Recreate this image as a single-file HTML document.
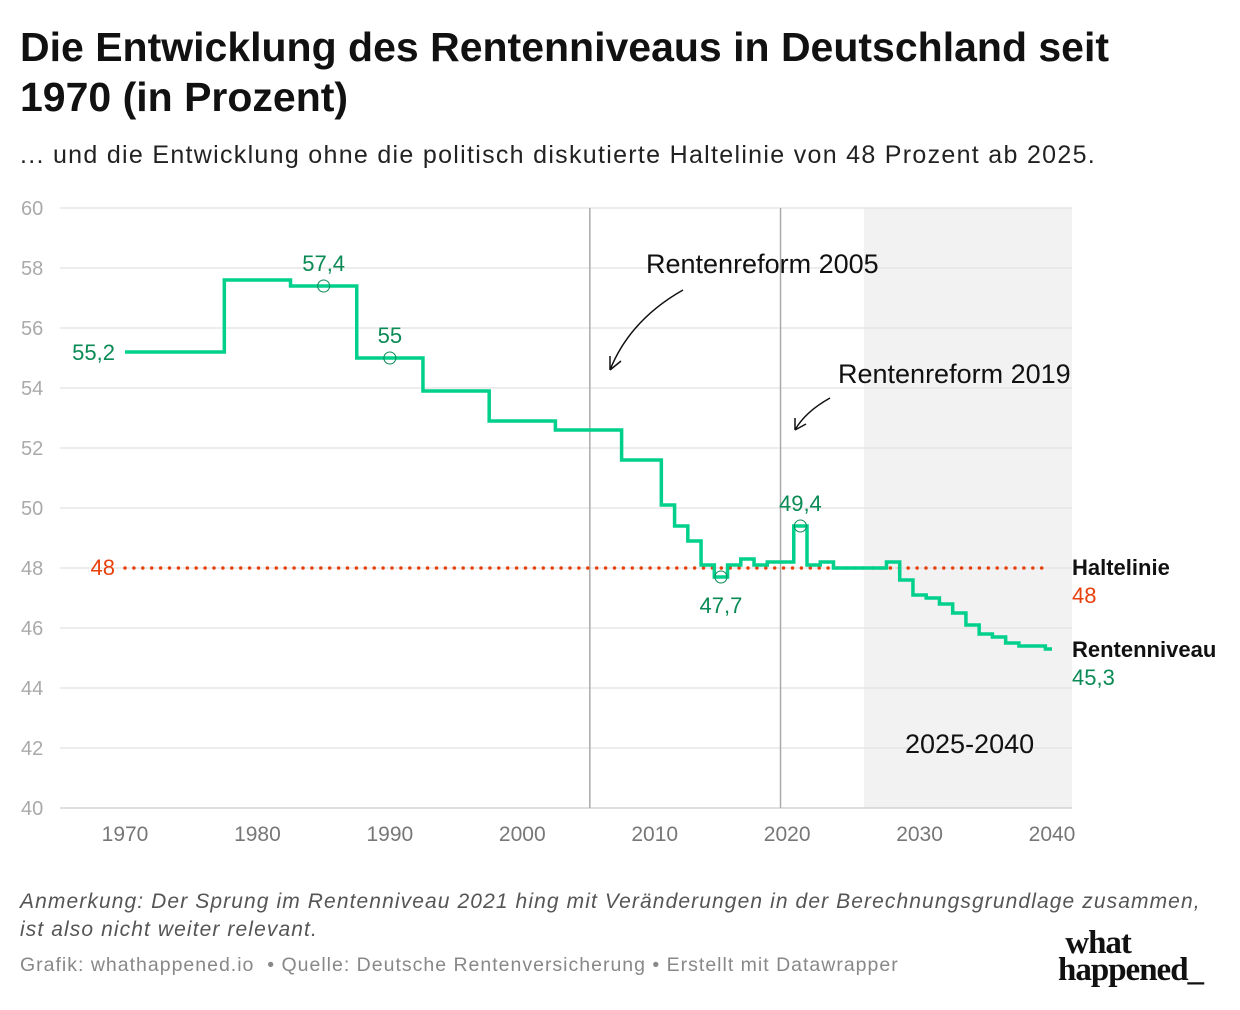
<!DOCTYPE html>
<html><head><meta charset="utf-8"><style>
body{margin:0;width:1240px;height:1010px;background:#fff;font-family:"Liberation Sans",sans-serif;position:relative;overflow:hidden}
.t{position:absolute;left:20px;top:22px;font-size:41px;font-weight:bold;line-height:50px;color:#111;letter-spacing:0px}
.s{position:absolute;left:20px;top:141px;font-size:25px;color:#222;letter-spacing:1.3px}
.n{position:absolute;left:20px;top:888px;font-size:21px;font-style:italic;color:#555;line-height:28px;letter-spacing:1.1px}
.f{position:absolute;left:20px;top:954px;font-size:19.5px;color:#888;letter-spacing:1.0px}
.logo{position:absolute;left:1058px;top:930px;font-family:"Liberation Serif",serif;font-weight:bold;font-size:33px;line-height:27px;color:#111;letter-spacing:-1px}
</style></head><body>
<div class="t">Die Entwicklung des Rentenniveaus in Deutschland seit<br>1970 (in Prozent)</div>
<div class="s">... und die Entwicklung ohne die politisch diskutierte Haltelinie von 48 Prozent ab 2025.</div>
<svg id="c" width="1240" height="1010" style="position:absolute;left:0;top:0"></svg>
<div class="n">Anmerkung: Der Sprung im Rentenniveau 2021 hing mit Veränderungen in der Berechnungsgrundlage zusammen,<br>ist also nicht weiter relevant.</div>
<div class="f">Grafik: whathappened.io &nbsp;• Quelle: Deutsche Rentenversicherung • Erstellt mit Datawrapper</div>
<div class="logo">&nbsp;what<br>happened_</div>
<script>
const changeYears=[1970,1977.5,1982.5,1987.5,1992.5,1997.5,2002.5,2007.5,2010.5,2011.5,2012.5,2013.5,2014.5,2015.5,2016.5,2017.5,2018.5,2020.5,2021.5,2022.5,2023.5,2027.5,2028.5,2029.5,2030.5,2031.5,2032.5,2033.5,2034.5,2035.5,2036.5,2037.5,2039.5];
const levels=[55.2,57.6,57.4,55,53.9,52.9,52.6,51.6,50.1,49.4,48.9,48.1,47.7,48.1,48.3,48.1,48.2,49.4,48.1,48.2,48,48.2,47.6,47.1,47.0,46.8,46.5,46.1,45.8,45.7,45.5,45.4,45.3];
const endYear=2040;
const yTicks=[40,42,44,46,48,50,52,54,56,58,60];
const xTicks=[1970,1980,1990,2000,2010,2020,2030,2040];
const markerYears=[1985,1990,2015,2021];
const markerVals=[57.4,55,47.7,49.4];
const markerLabels=["57,4","55","47,7","49,4"];
const haltelinie=48;
const X=y=>125+(y-1970)*(927/70);
const Y=v=>808-(v-40)*30;
const svg=document.getElementById('c');
const NS='http://www.w3.org/2000/svg';
function mk(tag,attrs,txt){const e=document.createElementNS(NS,tag);for(const k in attrs)e.setAttribute(k,attrs[k]);if(txt!=null)e.textContent=txt;svg.appendChild(e);return e;}
let e=mk('rect',{x:864,y:208,width:208,height:600,fill:'#f2f2f2'});


yTicks.forEach(v=>{
 let g=mk('line',{x1:60,x2:1072,y1:Y(v),y2:Y(v),stroke:v==40?'#ccc':'#e2e2e2','stroke-width':1.3});
 
 
 let t=mk('text',{x:21,y:Y(v)+7,'font-size':20,fill:'#aaa'},v);
 
 
});
xTicks.forEach(v=>{
 let t=mk('text',{x:X(v),y:841,'font-size':21,fill:'#777','text-anchor':'middle'},v);
 
 
});
[[2005.1,'reform-2005-line'],[2019.5,'reform-2019-line']].forEach(([yr,n])=>{
 let l=mk('line',{x1:X(yr),x2:X(yr),y1:208,y2:808,stroke:'#aaa','stroke-width':1.5});
 
 
});
e=mk('line',{x1:X(1970),x2:1046,y1:Y(haltelinie),y2:Y(haltelinie),stroke:'#e8400c','stroke-width':3.5,'stroke-dasharray':'0 8.9','stroke-linecap':'round'});


let d='';
for(let i=0;i<levels.length;i++){
 const x0=X(changeYears[i]),x1=X(i+1<changeYears.length?changeYears[i+1]:endYear);
 d+=(i==0?'M':'L')+x0+','+Y(levels[i])+'L'+x1+','+Y(levels[i]);
}
e=mk('path',{d:d,fill:'none',stroke:'#00d08c','stroke-width':3.5,'stroke-linejoin':'miter'});


markerYears.forEach((yr,i)=>{
 let c=mk('circle',{cx:X(yr),cy:Y(markerVals[i]),r:6,fill:'none',stroke:'#0a8a55','stroke-width':1});
 
 
 const below=markerVals[i]<48;
 let t=mk('text',{x:X(yr),y:below?Y(markerVals[i])+36:Y(markerVals[i])-15,'font-size':22,fill:'#0a8a55','text-anchor':'middle'},markerLabels[i]);
 
 
});
e=mk('text',{x:115,y:Y(55.2)+8,'font-size':22,fill:'#0a8a55','text-anchor':'end'},'55,2');


e=mk('text',{x:115,y:Y(48)+7,'font-size':22,fill:'#e8400c','text-anchor':'end'},'48');


e=mk('text',{x:1072,y:575,'font-size':22,'font-weight':'bold',fill:'#111'},'Haltelinie');


e=mk('text',{x:1072,y:603,'font-size':22,fill:'#e8400c'},'48');


e=mk('text',{x:1072,y:657,'font-size':22,'font-weight':'bold',fill:'#111'},'Rentenniveau');


e=mk('text',{x:1072,y:685,'font-size':22,fill:'#0a8a55'},'45,3');


e=mk('text',{x:646,y:273,'font-size':27,fill:'#111'},'Rentenreform 2005');


e=mk('text',{x:838,y:383,'font-size':27,fill:'#111'},'Rentenreform 2019');


e=mk('text',{x:905,y:753,'font-size':27,fill:'#111'},'2025-2040');


e=mk('path',{d:'M683,290 Q630,320 610,370 M610,370 L610,356 M610,370 L621,361',fill:'none',stroke:'#111','stroke-width':1.5});


e=mk('path',{d:'M830,398 Q805,412 795,430 M795,430 L795,418 M795,430 L806,424',fill:'none',stroke:'#111','stroke-width':1.5});


</script>
</body></html>
